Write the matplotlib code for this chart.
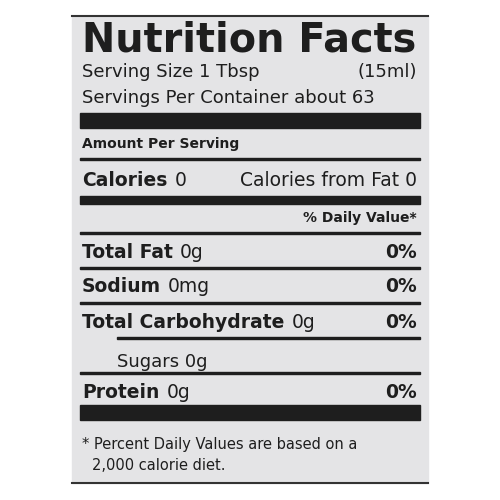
import matplotlib
matplotlib.use('Agg')
import matplotlib.pyplot as plt
from matplotlib.patches import Rectangle

nutrients = ['Total Fat', 'Sodium', 'Total Carbohydrate', 'Sugars', 'Protein']
amounts = ['0g', '0mg', '0g', '0g', '0g']
daily_pct = ['0%', '0%', '0%', '', '0%']
is_sub = [False, False, False, True, False]
calories = 0
calories_fat = 0

fig = plt.figure(figsize=(5, 5), dpi=100)
ax = fig.add_axes([0, 0, 1, 1])
ax.set_xlim(0, 500)
ax.set_ylim(500, 0)
ax.axis('off')

ink = '#1e1e1e'
ax.add_patch(Rectangle((72, 16), 356, 467, color='#e4e4e6', zorder=0))
ax.plot([72, 428], [16, 16], color='#333333', lw=1.5)
ax.plot([72, 428], [483, 483], color='#333333', lw=1.5)

def bar(y0, y1, x0=80):
    ax.add_patch(Rectangle((x0, y0), 420 - x0, y1 - y0, color=ink, zorder=1))

def bold_then_plain(x, y, bold, plain, size):
    # bold label followed by a regular-weight value
    t = ax.text(x, y, bold, fontsize=size, fontweight='bold', color=ink, va='center')
    fig.canvas.draw()
    bb = t.get_window_extent()
    ax.text(bb.x1 + 7, y, plain, fontsize=size, color=ink, va='center')

L, R = 82, 417
title = ax.text(L, 40, 'Nutrition Facts', fontsize=26, fontweight='heavy', color=ink, va='center')
fig.canvas.draw()
w = title.get_window_extent().width
title.set_fontsize(26 * (R - L) / w)

ax.text(L, 72, 'Serving Size 1 Tbsp', fontsize=13, color=ink, va='center')
ax.text(R, 72, '(15ml)', fontsize=13, color=ink, va='center', ha='right')
ax.text(L, 98, 'Servings Per Container about 63', fontsize=13, color=ink, va='center')
bar(113, 128)
ax.text(L, 144, 'Amount Per Serving', fontsize=10, fontweight='bold', color=ink, va='center')
bar(158, 160)
bold_then_plain(L, 181, 'Calories', str(calories), 13.5)
ax.text(R, 181, 'Calories from Fat %d' % calories_fat, fontsize=13.5, color=ink, va='center', ha='right')
bar(196, 204)
ax.text(R, 218, '% Daily Value*', fontsize=10, fontweight='bold', color=ink, va='center', ha='right')

y = 252
for i, name in enumerate(nutrients):
    bar(y - 20, y - 18, 117 if is_sub[i] else 80)
    if is_sub[i]:
        ax.text(117, y + 5, name + ' ' + amounts[i], fontsize=13, color=ink, va='center')
    else:
        bold_then_plain(L, y, name, amounts[i], 13.5)
    if daily_pct[i]:
        ax.text(R, y, daily_pct[i], fontsize=13.5, fontweight='bold', color=ink, va='center', ha='right')
    y += 35
bar(405, 420)
ax.text(L, 444, '* Percent Daily Values are based on a', fontsize=10.5, color=ink, va='center')
ax.text(92, 466, '2,000 calorie diet.', fontsize=10.5, color=ink, va='center')

fig.savefig('out.png', dpi=100, facecolor='white')
